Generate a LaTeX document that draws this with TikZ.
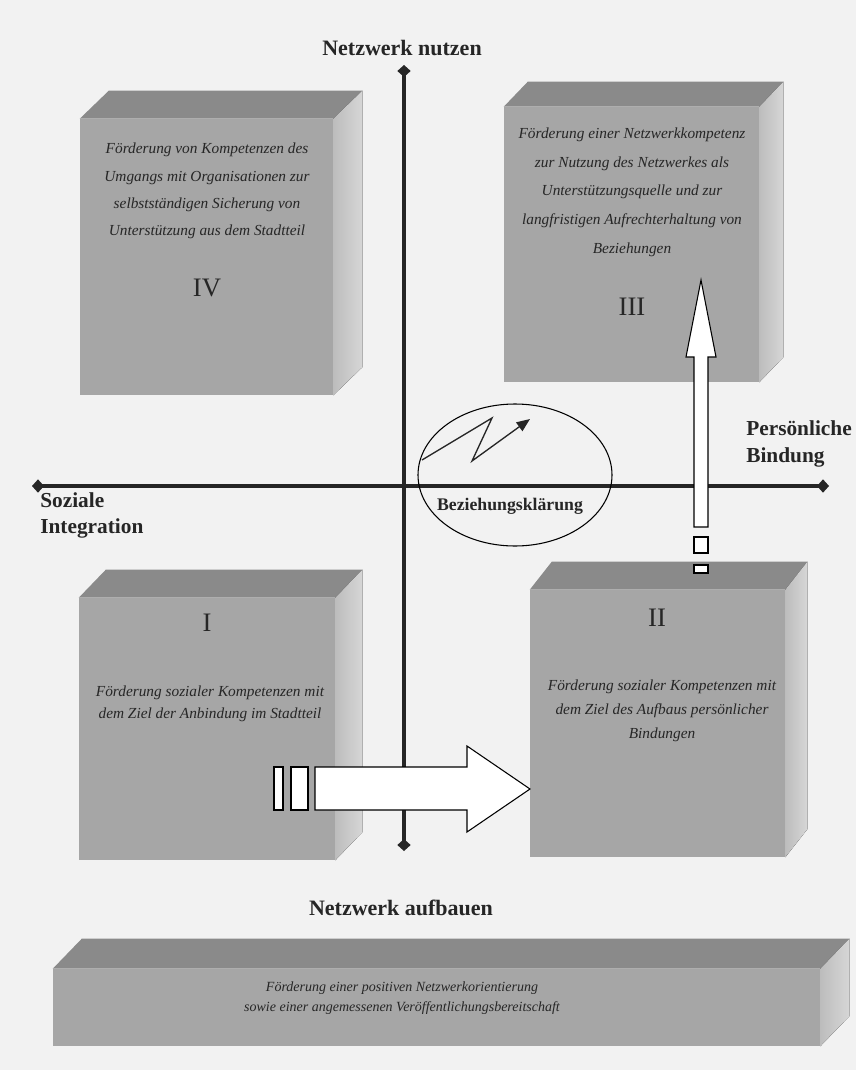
\documentclass[tikz,border=0pt]{standalone}
\usepackage{fontspec}
\setmainfont{Liberation Serif}
\usepackage{tikz}
\usetikzlibrary{arrows.meta,positioning}

\begin{document}
\begin{tikzpicture}[
    x=0.75pt, y=-0.75pt,
    front/.style={fill=gray!70!white, inner sep=0pt},
    topface/.style={fill=gray!92!white},
    sideface/.style={left color=gray!52!white, right color=gray!32!white},
    boxtext/.style={align=center, text=black!85, font=\itshape\fontsize{11.5}{20.5}\selectfont},
    numeral/.style={text=black!85, font=\fontsize{20}{24}\selectfont},
    axislabel/.style={text=black!85, font=\bfseries\fontsize{16.5}{20}\selectfont},
    sidelabel/.style={text=black!85, align=left, anchor=west, inner sep=0pt, font=\bfseries\fontsize{16}{19.5}\selectfont},
    achse/.style={line width=3.2pt, draw=black!85, {Diamond[length=9pt,width=10pt]}-{Diamond[length=9pt,width=10pt]}},
    blockpfeil/.style={draw=black, line width=0.8pt, fill=white}
]
    % Background
    \useasboundingbox (0,0) rectangle (856,1070);
    \fill[white!95!black] (0,0) rectangle (856,1070);

    % Quadrant IV
    \node[front, minimum width=189.75pt, minimum height=207pt] (q4) at (206.5,257) {};
    \fill[topface] (q4.north west) -- ++(29,-28) -- ([shift={(29,-28)}]q4.north east) -- (q4.north east) -- cycle;
    \fill[sideface] (q4.north east) -- ++(29,-28) -- ([shift={(29,-28)}]q4.south east) -- (q4.south east) -- cycle;

    % Quadrant III
    \node[front, minimum width=191.25pt, minimum height=206.25pt] (q3) at (631.5,244.5) {};
    \fill[topface] (q3.north west) -- ++(24,-25) -- ([shift={(24,-25)}]q3.north east) -- (q3.north east) -- cycle;
    \fill[sideface] (q3.north east) -- ++(24,-25) -- ([shift={(24,-25)}]q3.south east) -- (q3.south east) -- cycle;

    % Quadrant I
    \node[front, minimum width=192pt, minimum height=196.5pt] (q1) at (207,729) {};
    \fill[topface] (q1.north west) -- ++(27,-28) -- ([shift={(27,-28)}]q1.north east) -- (q1.north east) -- cycle;
    \fill[sideface] (q1.north east) -- ++(27,-28) -- ([shift={(27,-28)}]q1.south east) -- (q1.south east) -- cycle;

    % Quadrant II
    \node[front, minimum width=191.25pt, minimum height=200.25pt] (q2) at (657.5,723.5) {};
    \fill[topface] (q2.north west) -- ++(22,-28) -- ([shift={(22,-28)}]q2.north east) -- (q2.north east) -- cycle;
    \fill[sideface] (q2.north east) -- ++(22,-28) -- ([shift={(22,-28)}]q2.south east) -- (q2.south east) -- cycle;

    % Base bar
    \node[front, minimum width=575.25pt, minimum height=57.75pt] (basis) at (436.5,1007.5) {};
    \fill[topface] (basis.north west) -- ++(29,-30) -- ([shift={(29,-30)}]basis.north east) -- (basis.north east) -- cycle;
    \fill[sideface] (basis.north east) -- ++(29,-30) -- ([shift={(29,-30)}]basis.south east) -- (basis.south east) -- cycle;

    % Axes
    \coordinate (oben) at (404,65);
    \coordinate (unten) at (404,851);
    \coordinate (links) at (32,486);
    \coordinate (rechts) at (829,486);
    \draw[achse] (unten) -- (oben);
    \draw[achse] (links) -- (rechts);

    % Relationship clarification
    \draw[line width=0.8pt] (515,475) ellipse [x radius=72.75pt, y radius=53.25pt];
    \draw[line width=1pt, black!85, -{Triangle[length=10pt,width=8pt]}] (422,460) -- (492,418) -- (472,461) -- (530,419);
    \node[text=black!85, font=\bfseries\fontsize{13.3}{16}\selectfont] (klaerung) at (510,506) {Beziehungsklärung};

    % Block arrows
    \draw[blockpfeil] (694,527) -- (694,357) -- (686,357) -- (701,280) -- (716,357) -- (708,357) -- (708,527) -- cycle;
    \draw[blockpfeil] (694,537) rectangle (708,553);
    \draw[blockpfeil] (694,565) rectangle (708,573);
    \draw[blockpfeil] (315,767) -- (467,767) -- (467,746) -- (530,789) -- (467,832) -- (467,810) -- (315,810) -- cycle;
    \draw[blockpfeil] (274,767) rectangle (283,810);
    \draw[blockpfeil] (291,767) rectangle (308,810);

    % Axis labels
    \node[axislabel] (nutzen) at (402,48) {Netzwerk nutzen};
    \node[axislabel] (aufbauen) at (401,908) {Netzwerk aufbauen};
    \node[sidelabel] (sozial) at (40,515) {Soziale\\Integration};
    \node[sidelabel, font=\bfseries\fontsize{16}{20.5}\selectfont] (bindung) at (746,444) {Persönliche\\Bindung};

    % Box texts
    \node[boxtext] (t4) at (207,191) {Förderung von Kompetenzen des\\Umgangs mit Organisationen zur\\selbstständigen Sicherung von\\Unterstützung aus dem Stadtteil};
    \node[numeral] (n4) at (207,288) {IV};
    \node[boxtext, font=\itshape\fontsize{11.5}{21.5}\selectfont] (t3) at (632,192) {Förderung einer Netzwerkkompetenz\\zur Nutzung des Netzwerkes als\\Unterstützungsquelle und zur\\langfristigen Aufrechterhaltung von\\Beziehungen};
    \node[numeral] (n3) at (632,307) {III};
    \node[numeral] (n1) at (207,623) {I};
    \node[boxtext, font=\itshape\fontsize{11.5}{16.5}\selectfont] (t1) at (210,704) {Förderung sozialer Kompetenzen mit\\dem Ziel der Anbindung im Stadtteil};
    \node[numeral] (n2) at (657,618) {II};
    \node[boxtext, font=\itshape\fontsize{11.5}{18}\selectfont] (t2) at (662,711) {Förderung sozialer Kompetenzen mit\\dem Ziel des Aufbaus persönlicher\\Bindungen};
    \node[boxtext, font=\itshape\fontsize{10.5}{15}\selectfont] (tb) at (402,998) {Förderung einer positiven Netzwerkorientierung\\sowie einer angemessenen Veröffentlichungsbereitschaft};
\end{tikzpicture}
\end{document}
